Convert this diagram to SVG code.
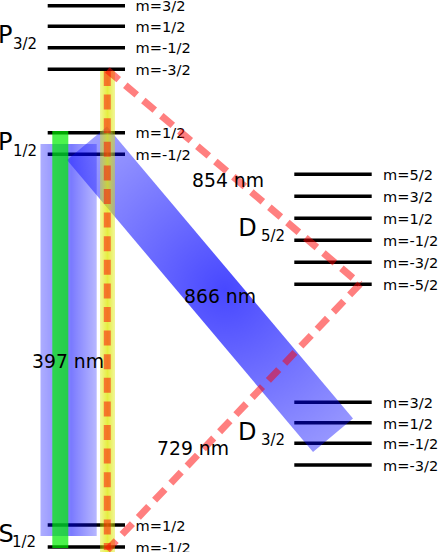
<svg xmlns="http://www.w3.org/2000/svg" width="440" height="552" viewBox="0 0 440 552">
<defs>
<style>
.lv{stroke:#000;stroke-width:3.4;fill:none}
.m{font-family:"DejaVu Sans",sans-serif;font-size:14.6px;fill:#000}
.big{font-family:"DejaVu Sans",sans-serif;font-size:24px;fill:#000}
.sub{font-size:15px}
.nm{font-family:"DejaVu Sans",sans-serif;font-size:18.8px;fill:#000}
.dash{stroke:#ff0000;stroke-opacity:0.5;stroke-width:7;stroke-dasharray:15 8.6;fill:none}
</style>
<linearGradient id="gv" x1="0" y1="0" x2="1" y2="0">
<stop offset="0" stop-color="#0000ff" stop-opacity="0.32"/>
<stop offset="0.55" stop-color="#0000ff" stop-opacity="0.52"/>
<stop offset="1" stop-color="#0000ff" stop-opacity="0.28"/>
</linearGradient>
<radialGradient id="gd" gradientUnits="userSpaceOnUse" cx="225" cy="290" r="230">
<stop offset="0" stop-color="#0000ff" stop-opacity="0.72"/>
<stop offset="1" stop-color="#0000ff" stop-opacity="0.33"/>
</radialGradient>
<linearGradient id="gy" x1="0" y1="0" x2="1" y2="0">
<stop offset="0" stop-color="#dde800" stop-opacity="0.4"/>
<stop offset="0.5" stop-color="#dde800" stop-opacity="0.75"/>
<stop offset="1" stop-color="#dde800" stop-opacity="0.4"/>
</linearGradient>
</defs>

<g id="P32">
<path class="lv" d="M47.7,5.7H125M47.7,26.2H125M47.7,47.7H125M47.7,69.2H125"/>
<text class="m" x="135.5" y="11.2">m=3/2</text>
<text class="m" x="135.5" y="31.7">m=1/2</text>
<text class="m" x="135.5" y="53.2">m=-1/2</text>
<text class="m" x="135.5" y="74.7">m=-3/2</text>
<text class="big" x="-2" y="43.3">P<tspan class="sub" x="13" y="49">3/2</tspan></text>
</g>

<g id="P12">
<path class="lv" d="M47.7,132.7H125M47.7,154.3H125"/>
<text class="m" x="135.5" y="138.2">m=1/2</text>
<text class="m" x="135.5" y="159.8">m=-1/2</text>
<text class="big" x="-2" y="150">P<tspan class="sub" x="13" y="155.5">1/2</tspan></text>
</g>

<g id="S12">
<path class="lv" d="M47.7,525H125M47.7,547H125"/>
<text class="m" x="135.5" y="530.5">m=1/2</text>
<text class="m" x="135.5" y="552.5">m=-1/2</text>
<text class="big" x="-1.5" y="541.5">S<tspan class="sub" x="12" y="546.5">1/2</tspan></text>
</g>

<g id="D52">
<path class="lv" d="M294.3,174.3H371.7M294.3,196.3H371.7M294.3,218.3H371.7M294.3,240.3H371.7M294.3,262.3H371.7M294.3,284.3H371.7"/>
<text class="m" x="383" y="180.3">m=5/2</text>
<text class="m" x="383" y="202.3">m=3/2</text>
<text class="m" x="383" y="224.3">m=1/2</text>
<text class="m" x="383" y="246.3">m=-1/2</text>
<text class="m" x="383" y="268.3">m=-3/2</text>
<text class="m" x="383" y="290.3">m=-5/2</text>
<text class="big" x="238.3" y="236">D<tspan class="sub" x="261" y="241">5/2</tspan></text>
</g>

<g id="D32">
<path class="lv" d="M294.3,402.3H371.7M294.3,422.7H371.7M294.3,443.3H371.7M294.3,465H371.7"/>
<text class="m" x="383" y="408.3">m=3/2</text>
<text class="m" x="383" y="428.7">m=1/2</text>
<text class="m" x="383" y="449.3">m=-1/2</text>
<text class="m" x="383" y="471">m=-3/2</text>
<text class="big" x="238" y="440">D<tspan class="sub" x="261" y="445">3/2</tspan></text>
</g>

<g id="connectors">
<rect x="40.5" y="144" width="56.2" height="392" fill="url(#gv)"/>
<polygon points="67,160 107,126.5 353,418.5 313,452" fill="url(#gd)"/>
<rect x="52.3" y="131" width="16" height="417" fill="#00ee00" fill-opacity="0.7"/>
<rect x="100" y="71" width="15" height="481" fill="url(#gy)"/>
<line class="dash" x1="107.3" y1="71" x2="107.3" y2="550"/>
<line class="dash" x1="107.3" y1="70" x2="360" y2="284"/>
<line class="dash" x1="360" y1="284" x2="107.3" y2="550"/>
<text class="nm" x="32" y="368">397 nm</text>
<text class="nm" x="192" y="187">854 nm</text>
<text class="nm" x="184" y="303">866 nm</text>
<text class="nm" x="157" y="455">729 nm</text>
</g>
</svg>
